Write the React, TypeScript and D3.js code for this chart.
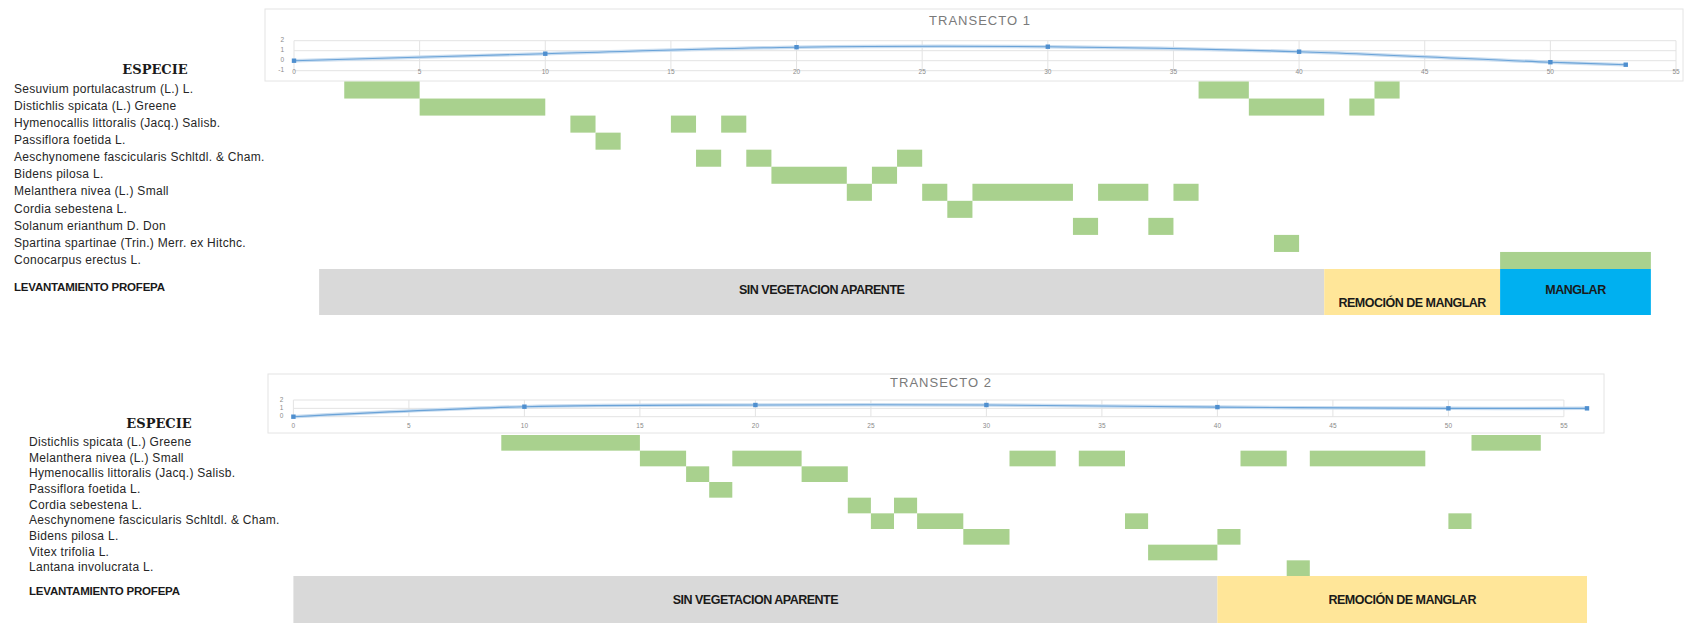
import React from "react";
import * as d3 from "d3";

// ---------- DATA ----------
const xTicks = [0, 5, 10, 15, 20, 25, 30, 35, 40, 45, 50, 55];

// Transecto 1 profile
const t1ProfileX = [0, 10, 20, 30, 40, 50, 53];
const t1ProfileY = [0, 0.7, 1.35, 1.4, 0.9, -0.15, -0.4];
const t1YTicks = [-1, 0, 1, 2];

const t1Species = [
  "Sesuvium portulacastrum (L.) L.",
  "Distichlis spicata (L.) Greene",
  "Hymenocallis littoralis (Jacq.) Salisb.",
  "Passiflora foetida L.",
  "Aeschynomene fascicularis Schltdl. & Cham.",
  "Bidens pilosa L.",
  "Melanthera nivea (L.) Small",
  "Cordia sebestena L.",
  "Solanum erianthum D. Don",
  "Spartina spartinae (Trin.) Merr. ex Hitchc.",
  "Conocarpus erectus L.",
];
const t1Segments: [number, number][][] = [
  [[2, 5], [36, 38], [43, 44]],
  [[5, 10], [38, 41], [42, 43]],
  [[11, 12], [15, 16], [17, 18]],
  [[12, 13]],
  [[16, 17], [18, 19], [24, 25]],
  [[19, 22], [23, 24]],
  [[22, 23], [25, 26], [27, 31], [32, 34], [35, 36]],
  [[26, 27]],
  [[31, 32], [34, 35]],
  [[39, 40]],
  [[48, 54]],
];
const t1Zones = ["SIN VEGETACION APARENTE", "REMOCIÓN DE MANGLAR", "MANGLAR"];
const t1ZoneStart = [1, 41, 48];
const t1ZoneEnd = [41, 48, 54];

// Transecto 2 profile
const t2ProfileX = [0, 10, 20, 30, 40, 50, 56];
const t2ProfileY = [0, 1.2, 1.4, 1.4, 1.15, 1.0, 1.0];
const t2YTicks = [0, 1, 2];

const t2Species = [
  "Distichlis spicata (L.) Greene",
  "Melanthera nivea (L.) Small",
  "Hymenocallis littoralis (Jacq.) Salisb.",
  "Passiflora foetida L.",
  "Cordia sebestena L.",
  "Aeschynomene fascicularis Schltdl. & Cham.",
  "Bidens pilosa L.",
  "Vitex trifolia L.",
  "Lantana involucrata L.",
];
const t2Segments: [number, number][][] = [
  [[9, 15], [51, 54]],
  [[15, 17], [19, 22], [31, 33], [34, 36], [41, 43], [44, 49]],
  [[17, 18], [22, 24]],
  [[18, 19]],
  [[24, 25], [26, 27]],
  [[25, 26], [27, 29], [36, 37], [50, 51]],
  [[29, 31], [40, 41]],
  [[37, 40]],
  [[43, 44]],
];
const t2Zones = ["SIN VEGETACION APARENTE", "REMOCIÓN DE MANGLAR"];
const t2ZoneStart = [0, 40];
const t2ZoneEnd = [40, 56];

const zoneColors: Record<string, string> = {
  "SIN VEGETACION APARENTE": "#d9d9d9",
  "REMOCIÓN DE MANGLAR": "#ffe699",
  MANGLAR: "#00b0f0",
};

const GREEN = "#a9d18e";
const LABEL_FONT = "'Liberation Sans', Arial, sans-serif";

type Cfg = {
  title: string;
  box: { x0: number; y0: number; x1: number; y1: number };
  titleX: number;
  titleY: number;
  xRange: [number, number];
  yDomain: [number, number];
  yRange: [number, number];
  xLabelY: number;
  profileX: number[];
  profileY: number[];
  yTicks: number[];
  species: string[];
  segments: [number, number][][];
  rowTop: number;
  rowBottom: number;
  labelX: number;
  especieX: number;
  especieY: number;
  levY: number;
  zones: string[];
  zoneStart: number[];
  zoneEnd: number[];
  zoneTop: number;
  zoneBottom: number;
  zoneTextY: number[];
};

function Transect({ c }: { c: Cfg }) {
  const x = d3.scaleLinear().domain([0, 55]).range(c.xRange);
  const y = d3.scaleLinear().domain(c.yDomain).range(c.yRange);
  const rows = d3
    .scaleBand<number>()
    .domain(d3.range(c.species.length))
    .range([c.rowTop, c.rowBottom])
    .padding(0);
  const pts = c.profileX.map((v, i) => [x(v), y(c.profileY[i])] as [number, number]);
  const line = d3.line().curve(d3.curveCatmullRom.alpha(0.5))(pts) || "";
  const yTicks = c.yTicks;
  return (
    <g>
      {/* chart box */}
      <rect
        x={c.box.x0}
        y={c.box.y0}
        width={c.box.x1 - c.box.x0}
        height={c.box.y1 - c.box.y0}
        fill="#fff"
        stroke="#e4e4e4"
        strokeWidth={1}
      />
      <text
        x={c.titleX}
        y={c.titleY}
        textAnchor="middle"
        dominantBaseline="middle"
        fontFamily={LABEL_FONT}
        fontSize={13}
        letterSpacing={1}
        fill="#7a7a7a"
      >
        {c.title}
      </text>
      {/* gridlines */}
      {yTicks.map((t) => (
        <line key={"h" + t} x1={x(0)} x2={x(55)} y1={y(t)} y2={y(t)} stroke="#e3e3e3" strokeWidth={1} />
      ))}
      {xTicks.map((t) => (
        <line
          key={"v" + t}
          x1={x(t)}
          x2={x(t)}
          y1={y(yTicks[yTicks.length - 1])}
          y2={y(yTicks[0])}
          stroke="#e3e3e3"
          strokeWidth={1}
        />
      ))}
      {yTicks.map((t) => (
        <text
          key={"yl" + t}
          x={x(0) - 10}
          y={y(t)}
          textAnchor="end"
          dominantBaseline="middle"
          fontFamily={LABEL_FONT}
          fontSize={6.5}
          fill="#8a8a8a"
        >
          {t}
        </text>
      ))}
      {xTicks.map((t) => (
        <text
          key={"xl" + t}
          x={x(t)}
          y={c.xLabelY}
          textAnchor="middle"
          dominantBaseline="middle"
          fontFamily={LABEL_FONT}
          fontSize={6.5}
          fill="#8a8a8a"
        >
          {t}
        </text>
      ))}
      {/* profile line */}
      <path d={line} fill="none" stroke="#c9ddf0" strokeWidth={3.5} strokeLinecap="round" />
      <path d={line} fill="none" stroke="#6aa3d8" strokeWidth={1.1} />
      {pts.map((p, i) => (
        <rect key={"m" + i} x={p[0] - 2.2} y={p[1] - 2.2} width={4.4} height={4.4} fill="#4f8fcf" />
      ))}

      {/* species header & labels */}
      <text
        x={c.especieX}
        y={c.especieY}
        textAnchor="middle"
        dominantBaseline="middle"
        fontFamily="'DejaVu Serif', serif"
        fontWeight="bold"
        fontSize={13}
        fill="#1a1a1a"
      >
        ESPECIE
      </text>
      {c.species.map((s, i) => (
        <text
          key={"s" + i}
          x={c.labelX}
          y={(rows(i) as number) + rows.bandwidth() / 2}
          dominantBaseline="middle"
          fontFamily={LABEL_FONT}
          fontSize={12}
          letterSpacing={0.3}
          fill="#262626"
        >
          {s}
        </text>
      ))}
      <text
        x={c.labelX}
        y={c.levY}
        dominantBaseline="middle"
        fontFamily={LABEL_FONT}
        fontWeight="bold"
        fontSize={11.5}
        letterSpacing={-0.2}
        fill="#1a1a1a"
      >
        LEVANTAMIENTO PROFEPA
      </text>

      {/* presence bars */}
      {c.segments.map((segs, i) =>
        segs.map((sg, j) => (
          <rect
            key={"b" + i + "-" + j}
            x={x(sg[0])}
            y={rows(i) as number}
            width={x(sg[1]) - x(sg[0])}
            height={rows.bandwidth()}
            fill={GREEN}
          />
        ))
      )}

      {/* zones */}
      {c.zones.map((z, i) => (
        <g key={"z" + i}>
          <rect
            x={x(c.zoneStart[i])}
            y={c.zoneTop}
            width={x(c.zoneEnd[i]) - x(c.zoneStart[i])}
            height={c.zoneBottom - c.zoneTop}
            fill={zoneColors[z]}
          />
          <text
            x={(x(c.zoneStart[i]) + x(c.zoneEnd[i])) / 2}
            y={c.zoneTextY[i]}
            textAnchor="middle"
            dominantBaseline="middle"
            fontFamily={LABEL_FONT}
            fontWeight="bold"
            fontSize={12.5}
            letterSpacing={-0.5}
            fill="#1a1a1a"
          >
            {z}
          </text>
        </g>
      ))}
    </g>
  );
}

const cfg1: Cfg = {
  title: "TRANSECTO 1",
  box: { x0: 265, y0: 9, x1: 1683, y1: 81 },
  titleX: 980,
  titleY: 22,
  xRange: [294, 1676],
  yDomain: [-1, 2],
  yRange: [70.7, 40.7],
  xLabelY: 72,
  profileX: t1ProfileX,
  profileY: t1ProfileY,
  yTicks: t1YTicks,
  species: t1Species,
  segments: t1Segments,
  rowTop: 81.5,
  rowBottom: 269,
  labelX: 14,
  especieX: 155,
  especieY: 70,
  levY: 288,
  zones: t1Zones,
  zoneStart: t1ZoneStart,
  zoneEnd: t1ZoneEnd,
  zoneTop: 269,
  zoneBottom: 315,
  zoneTextY: [291, 304, 291],
};

const cfg2: Cfg = {
  title: "TRANSECTO 2",
  box: { x0: 268, y0: 374, x1: 1604, y1: 433 },
  titleX: 941,
  titleY: 384,
  xRange: [293.4, 293.4 + 55 * 23.1],
  yDomain: [0, 2],
  yRange: [416.7, 400],
  xLabelY: 426,
  profileX: t2ProfileX,
  profileY: t2ProfileY,
  yTicks: t2YTicks,
  species: t2Species,
  segments: t2Segments,
  rowTop: 435,
  rowBottom: 576,
  labelX: 29,
  especieX: 159,
  especieY: 424,
  levY: 592,
  zones: t2Zones,
  zoneStart: t2ZoneStart,
  zoneEnd: t2ZoneEnd,
  zoneTop: 576,
  zoneBottom: 623,
  zoneTextY: [601, 601],
};

export default function App() {
  return (
    <svg
      width={1692}
      height={623}
      style={{ position: "absolute", left: 0, top: 0, background: "#fff" }}
    >
      <rect x={0} y={0} width={1692} height={623} fill="#fff" />
      <Transect c={cfg1} />
      <Transect c={cfg2} />
    </svg>
  );
}
